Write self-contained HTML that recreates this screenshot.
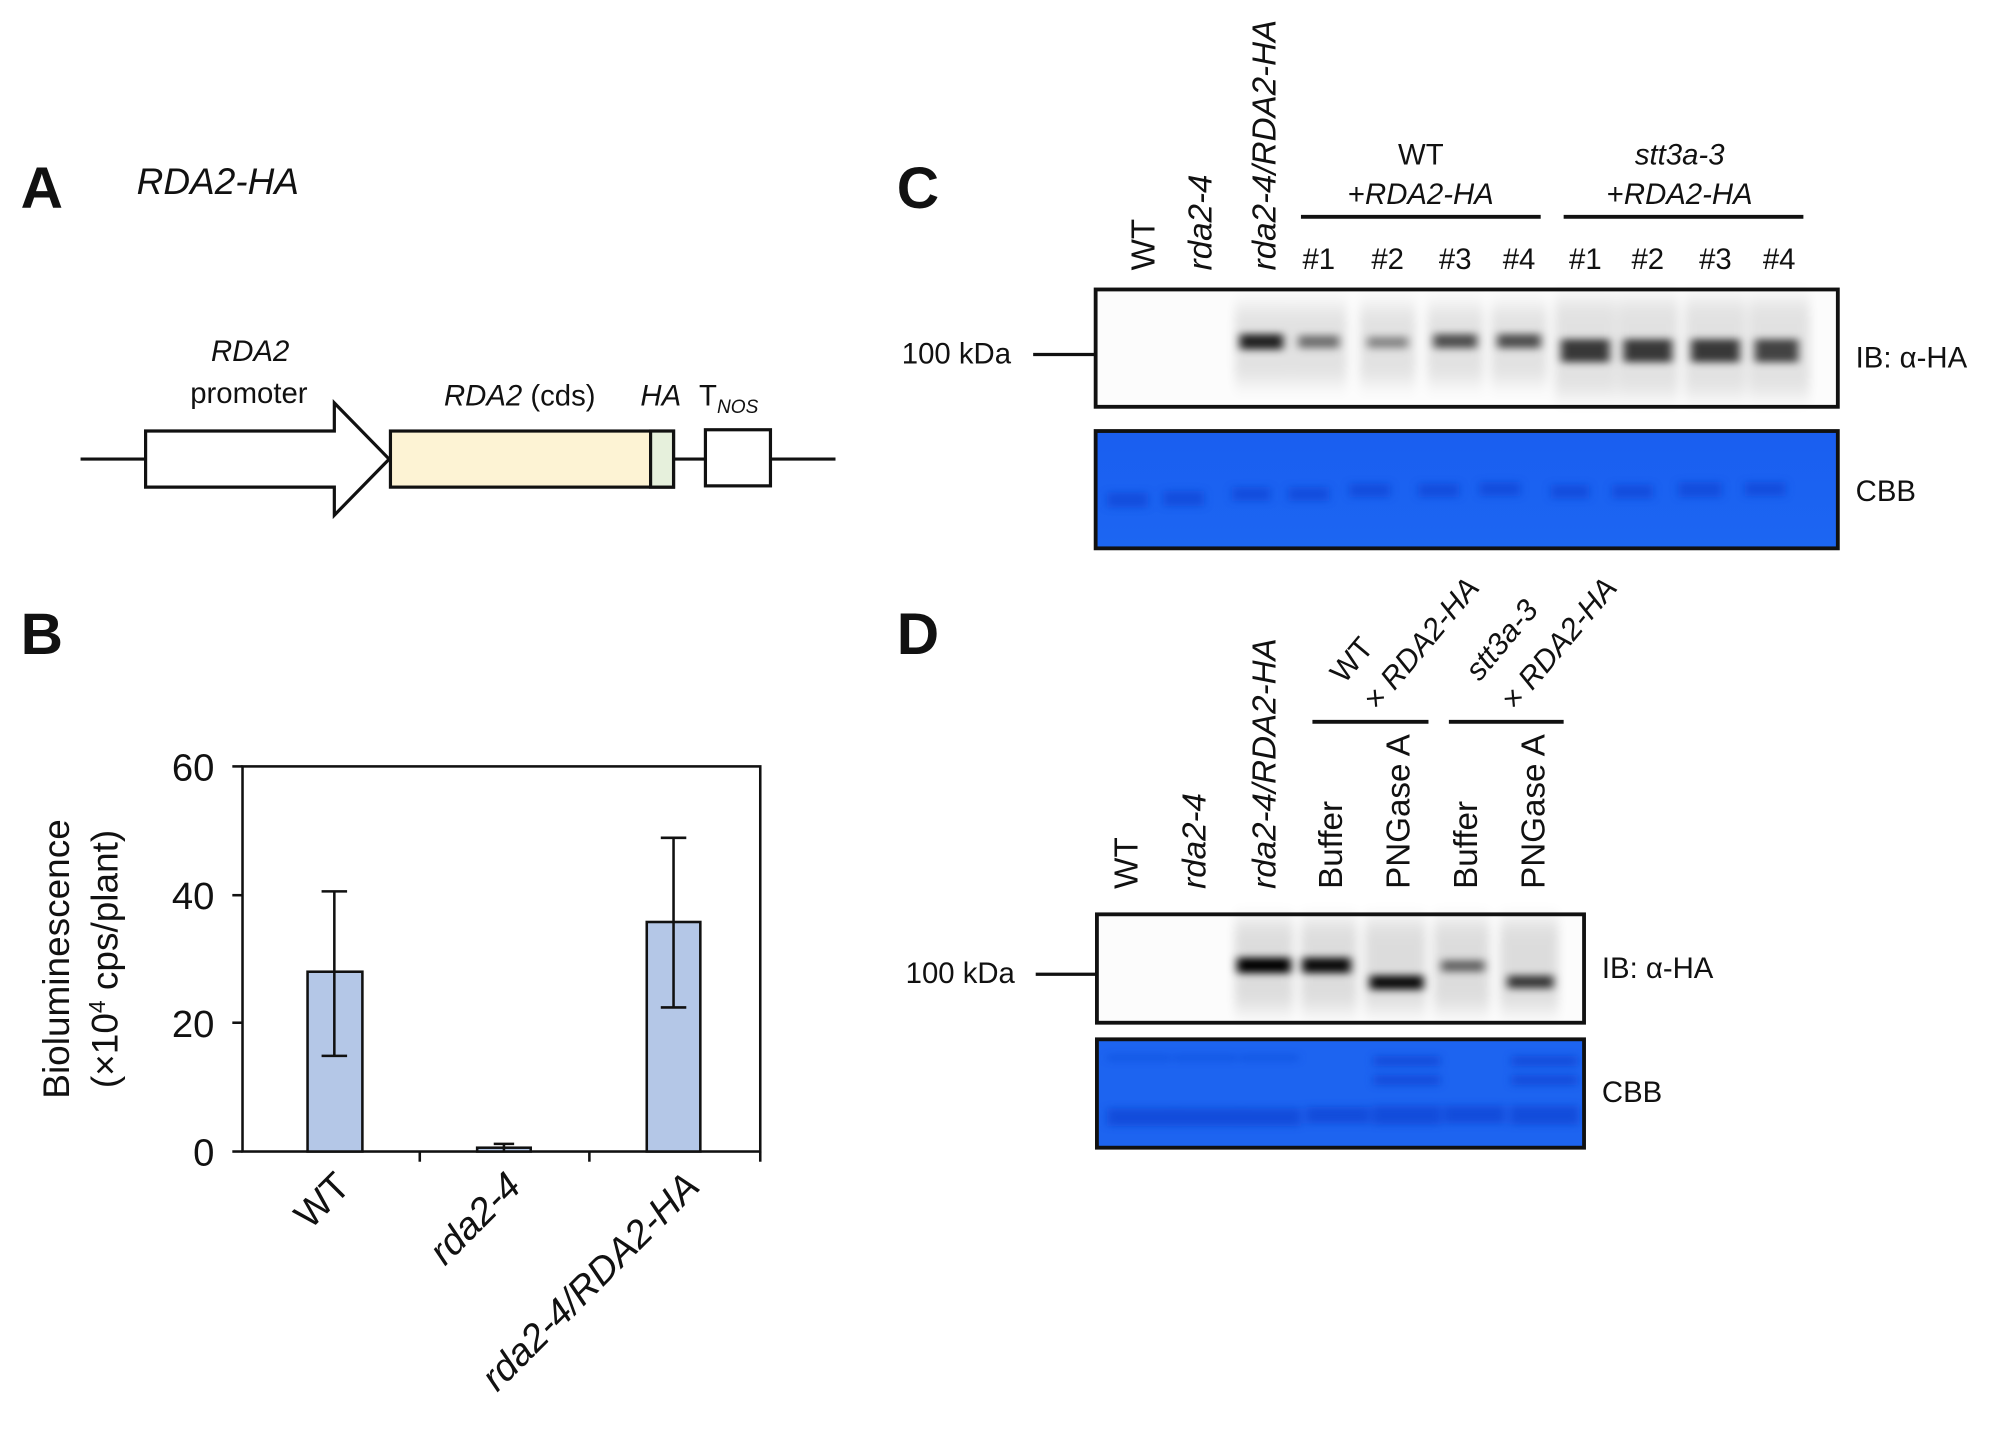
<!DOCTYPE html>
<html><head><meta charset="utf-8"><style>
html,body{margin:0;padding:0;background:#fff;}
svg{display:block;}
text{font-family:"Liberation Sans",Arial,sans-serif;fill:#111;}
</style></head><body>
<svg width="2000" height="1441" viewBox="0 0 1568 1130" xmlns="http://www.w3.org/2000/svg">
<defs>
<filter id="b1" x="-50%" y="-200%" width="200%" height="500%"><feGaussianBlur stdDeviation="3.5 3"/></filter>
<filter id="b2" x="-50%" y="-100%" width="200%" height="300%"><feGaussianBlur stdDeviation="4 8"/></filter>
<linearGradient id="cbb" x1="0" y1="0" x2="0" y2="1"><stop offset="0" stop-color="#1a5ef0"/><stop offset="1" stop-color="#1c66f2"/></linearGradient>
</defs>

<!-- Panel A -->
<text x="16" y="163" font-size="46" font-weight="bold">A</text>
<text x="107" y="152" font-size="29" font-style="italic">RDA2-HA</text>
<line x1="63" y1="360" x2="655" y2="360" stroke="#111" stroke-width="2.5"/>
<polygon points="114,338 262,338 262,316 305,360 262,404 262,382 114,382" fill="#fff" stroke="#111" stroke-width="2.5"/>
<rect x="306" y="338" width="222" height="44" fill="#fdf3d4" stroke="#111" stroke-width="2.5"/>
<rect x="510" y="338" width="18" height="44" fill="#e6f0dc" stroke="#111" stroke-width="2.5"/>
<rect x="553" y="337" width="51" height="44" fill="#fff" stroke="#111" stroke-width="2.5"/>
<text x="196" y="283" font-size="23" font-style="italic" text-anchor="middle">RDA2</text>
<text x="195" y="316" font-size="23" text-anchor="middle">promoter</text>
<text x="348" y="318" font-size="23"><tspan font-style="italic">RDA2</tspan> (cds)</text>
<text x="502" y="318" font-size="23" font-style="italic">HA</text>
<text x="548" y="318" font-size="23">T<tspan font-size="15" font-style="italic" dy="6">NOS</tspan></text>

<!-- Panel B -->
<text x="16" y="513" font-size="46" font-weight="bold">B</text>
<rect x="190" y="601" width="406" height="302" fill="none" stroke="#111" stroke-width="2"/>
<g stroke="#111" stroke-width="2">
<line x1="182" y1="601" x2="190" y2="601"/><line x1="182" y1="702" x2="190" y2="702"/>
<line x1="182" y1="802" x2="190" y2="802"/><line x1="182" y1="903" x2="190" y2="903"/>
<line x1="329" y1="903" x2="329" y2="911"/><line x1="462" y1="903" x2="462" y2="911"/><line x1="596" y1="903" x2="596" y2="911"/>
</g>
<g font-size="30" text-anchor="end">
<text x="168" y="612">60</text><text x="168" y="713">40</text><text x="168" y="813">20</text><text x="168" y="914">0</text>
</g>
<g fill="#b4c7e7" stroke="#111" stroke-width="2">
<rect x="241" y="762" width="43" height="141"/>
<rect x="374" y="900" width="42" height="3"/>
<rect x="507" y="723" width="42" height="180"/>
</g>
<g stroke="#111" stroke-width="2">
<line x1="262" y1="699" x2="262" y2="828"/><line x1="252" y1="699" x2="272" y2="699"/><line x1="252" y1="828" x2="272" y2="828"/>
<line x1="395" y1="897" x2="395" y2="903"/><line x1="387" y1="897" x2="403" y2="897"/>
<line x1="528" y1="657" x2="528" y2="790"/><line x1="518" y1="657" x2="538" y2="657"/><line x1="518" y1="790" x2="538" y2="790"/>
</g>
<text transform="translate(54,752) rotate(-90)" font-size="29" text-anchor="middle">Bioluminescence</text>
<text transform="translate(92,752) rotate(-90)" font-size="29" text-anchor="middle">(×10<tspan font-size="18" dy="-10">4</tspan><tspan dy="10"> cps/plant)</tspan></text>
<g font-size="30" font-style="italic" text-anchor="end">
<text transform="translate(276,932) rotate(-45)" font-style="normal">WT</text>
<text transform="translate(410,932) rotate(-45)">rda2-4</text>
<text transform="translate(550,932) rotate(-45)">rda2-4/RDA2-HA</text>
</g>

<!-- Panel C -->
<text x="703" y="163" font-size="46" font-weight="bold">C</text>
<g font-size="26">
<text transform="translate(905,212) rotate(-90)">WT</text>
<text transform="translate(950,212) rotate(-90)" font-style="italic">rda2-4</text>
<text transform="translate(1000,212) rotate(-90)" font-style="italic">rda2-4/RDA2-HA</text>
</g>
<text x="1114" y="129" font-size="23" text-anchor="middle">WT</text>
<text x="1114" y="160" font-size="23" text-anchor="middle">+<tspan font-style="italic">RDA2-HA</tspan></text>
<text x="1317" y="129" font-size="23" text-anchor="middle" font-style="italic">stt3a-3</text>
<text x="1317" y="160" font-size="23" text-anchor="middle">+<tspan font-style="italic">RDA2-HA</tspan></text>
<line x1="1020" y1="170" x2="1208" y2="170" stroke="#111" stroke-width="3"/>
<line x1="1226" y1="170" x2="1414" y2="170" stroke="#111" stroke-width="3"/>
<g font-size="23" text-anchor="middle">
<text x="1034" y="211">#1</text><text x="1088" y="211">#2</text><text x="1141" y="211">#3</text><text x="1191" y="211">#4</text>
<text x="1243" y="211">#1</text><text x="1292" y="211">#2</text><text x="1345" y="211">#3</text><text x="1395" y="211">#4</text>
</g>
<rect x="859" y="227" width="582" height="92" fill="#fcfcfc"/>
<g filter="url(#b2)" fill="#000" opacity="0.1">
<rect x="968" y="240" width="44" height="60"/><rect x="1012" y="240" width="44" height="60"/><rect x="1066" y="240" width="44" height="60"/><rect x="1119" y="240" width="44" height="60"/><rect x="1169" y="240" width="44" height="60"/>
<rect x="1219" y="235" width="48" height="75"/><rect x="1268" y="235" width="48" height="75"/><rect x="1321" y="235" width="48" height="75"/><rect x="1371" y="235" width="48" height="75"/>
</g>
<g filter="url(#b1)" fill="#000">
<rect x="972" y="262" width="34" height="12" opacity="0.85"/>
<rect x="1018" y="263" width="32" height="10" opacity="0.5"/>
<rect x="1072" y="264" width="32" height="9" opacity="0.4"/>
<rect x="1124" y="262" width="34" height="11" opacity="0.65"/>
<rect x="1174" y="262" width="34" height="11" opacity="0.65"/>
<rect x="1224" y="266" width="38" height="18" opacity="0.75"/>
<rect x="1273" y="266" width="38" height="18" opacity="0.75"/>
<rect x="1326" y="266" width="38" height="18" opacity="0.75"/>
<rect x="1376" y="266" width="34" height="18" opacity="0.7"/>
</g>
<rect x="859" y="227" width="582" height="92" fill="none" stroke="#111" stroke-width="3"/>
<line x1="810" y1="278" x2="859" y2="278" stroke="#111" stroke-width="2.5"/>
<text x="707" y="285" font-size="23">100 kDa</text>
<text x="1455" y="288" font-size="23">IB: α-HA</text>
<rect x="859" y="338" width="582" height="92" fill="url(#cbb)"/>
<g filter="url(#b1)" fill="#0a3fd0" opacity="0.6">
<rect x="868" y="386" width="32" height="12"/><rect x="912" y="385" width="32" height="12"/><rect x="966" y="382" width="30" height="11"/><rect x="1010" y="382" width="32" height="11"/>
<rect x="1058" y="379" width="32" height="11"/><rect x="1112" y="379" width="32" height="11"/><rect x="1160" y="378" width="32" height="11"/><rect x="1216" y="380" width="30" height="11"/>
<rect x="1264" y="380" width="32" height="11"/><rect x="1316" y="378" width="34" height="12"/><rect x="1368" y="378" width="32" height="11"/>
</g>
<rect x="859" y="338" width="582" height="92" fill="none" stroke="#111" stroke-width="3"/>
<text x="1455" y="393" font-size="23">CBB</text>

<!-- Panel D -->
<text x="703" y="513" font-size="46" font-weight="bold">D</text>
<g font-size="26">
<text transform="translate(892,697) rotate(-90)">WT</text>
<text transform="translate(945,697) rotate(-90)" font-style="italic">rda2-4</text>
<text transform="translate(1000,697) rotate(-90)" font-style="italic">rda2-4/RDA2-HA</text>
<text transform="translate(1052,697) rotate(-90)">Buffer</text>
<text transform="translate(1105,697) rotate(-90)">PNGase A</text>
<text transform="translate(1158,697) rotate(-90)">Buffer</text>
<text transform="translate(1211,697) rotate(-90)">PNGase A</text>
</g>
<g font-size="24">
<text transform="translate(1054,537) rotate(-50)">WT</text>
<text transform="translate(1080,558) rotate(-50)">× <tspan font-style="italic">RDA2-HA</tspan></text>
<text transform="translate(1160,535) rotate(-50)" font-style="italic">stt3a-3</text>
<text transform="translate(1188,558) rotate(-50)">× <tspan font-style="italic">RDA2-HA</tspan></text>
</g>
<line x1="1029" y1="566" x2="1120" y2="566" stroke="#111" stroke-width="3"/>
<line x1="1136" y1="566" x2="1226" y2="566" stroke="#111" stroke-width="3"/>
<rect x="860" y="717" width="382" height="85" fill="#fcfcfc"/>
<g filter="url(#b2)" fill="#000" opacity="0.12">
<rect x="968" y="722" width="46" height="70"/><rect x="1020" y="722" width="44" height="70"/><rect x="1070" y="722" width="48" height="70"/><rect x="1124" y="722" width="44" height="70"/><rect x="1176" y="722" width="46" height="70"/>
</g>
<g filter="url(#b1)" fill="#000">
<rect x="970" y="751" width="42" height="12" opacity="1"/>
<rect x="1021" y="751" width="38" height="12" opacity="0.95"/>
<rect x="1074" y="765" width="42" height="11" opacity="0.95"/>
<rect x="1130" y="753" width="34" height="9" opacity="0.55"/>
<rect x="1182" y="765" width="36" height="10" opacity="0.75"/>
</g>
<rect x="860" y="717" width="382" height="85" fill="none" stroke="#111" stroke-width="3"/>
<line x1="812" y1="764" x2="860" y2="764" stroke="#111" stroke-width="2.5"/>
<text x="710" y="771" font-size="23">100 kDa</text>
<text x="1256" y="767" font-size="23">IB: α-HA</text>
<rect x="860" y="815" width="382" height="85" fill="#1d64f0"/>
<g filter="url(#b1)" fill="#0a3fd0" opacity="0.65">
<rect x="868" y="869" width="54" height="14"/><rect x="920" y="869" width="54" height="14"/><rect x="972" y="869" width="48" height="14"/><rect x="1024" y="868" width="50" height="13"/>
<rect x="1076" y="867" width="54" height="15"/><rect x="1132" y="867" width="48" height="14"/><rect x="1184" y="867" width="54" height="15"/>
<rect x="1077" y="828" width="52" height="8"/><rect x="1077" y="843" width="52" height="8"/>
<rect x="1185" y="828" width="52" height="8"/><rect x="1185" y="843" width="52" height="8"/>
<rect x="868" y="827" width="50" height="5" opacity="0.6"/><rect x="920" y="827" width="50" height="5" opacity="0.6"/><rect x="972" y="827" width="46" height="5" opacity="0.6"/>
</g>
<rect x="860" y="815" width="382" height="85" fill="none" stroke="#111" stroke-width="3"/>
<text x="1256" y="864" font-size="23">CBB</text>
</svg>
</body></html>
